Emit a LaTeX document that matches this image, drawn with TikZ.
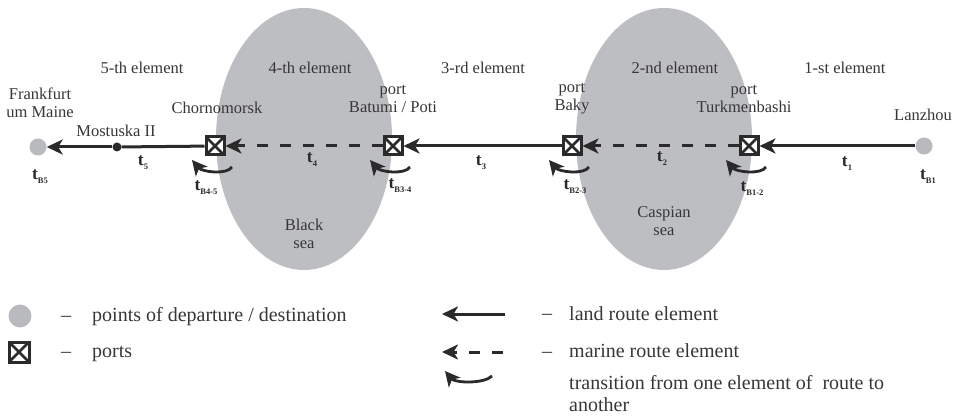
\documentclass[tikz,border=0pt]{standalone}
\usepackage{fontspec}
\setmainfont{Liberation Serif}
\usetikzlibrary{arrows.meta,calc}
\definecolor{ink}{RGB}{55,55,55}
\definecolor{lineink}{RGB}{42,42,42}
\definecolor{seagray}{RGB}{189,190,194}
\definecolor{dotgray}{RGB}{185,186,189}
% bold time symbol with a lowered small subscript
\newcommand{\tlab}[1]{{\fontsize{17.5}{17.5}\selectfont\bfseries t\raisebox{-4pt}{\fontsize{8.5}{8.5}\selectfont #1}}}
\begin{document}
\begin{tikzpicture}[x=1pt,y=-1pt,
  lbl/.style={text=ink, font=\fontsize{16.5}{18}\selectfont, align=center, inner sep=0},
  leg/.style={text=ink, font=\fontsize{20}{22}\selectfont, inner sep=0, anchor=base west, align=left},
  tl/.style={text=lineink, inner sep=0},
  endpt/.style={circle, fill=dotgray, minimum size=17pt, inner sep=0},
  waypt/.style={circle, fill=lineink, minimum size=9pt, inner sep=0},
  port/.style={draw=lineink, line width=3pt, fill=white, minimum size=18pt, inner sep=0,
    path picture={\draw[lineink,line width=2.5pt]
      (path picture bounding box.north west) -- (path picture bounding box.south east)
      (path picture bounding box.north east) -- (path picture bounding box.south west);}},
  land/.style={draw=lineink, line width=3pt, -{Stealth[length=16pt,width=15pt,inset=4.5pt]}},
  marine/.style={land, dash pattern=on 11pt off 12pt},
  plain/.style={draw=lineink, line width=3pt},
  trans/.style={draw=lineink, line width=2.8pt, -{Stealth[length=15pt,width=15pt,inset=4pt]}},
]
\useasboundingbox (0,0) rectangle (959,417);
\fill[white] (0,0) rectangle (959,417);

% seas
\fill[seagray] (304,139) ellipse [x radius=88, y radius=131];
\fill[seagray] (664,139) ellipse [x radius=88, y radius=131];
\node[lbl] (blacksea) at (304,234) {Black\\sea};
\node[lbl] (caspsea) at (664,221) {Caspian\\sea};

% element captions
\node[lbl] (el5) at (142,68) {5-th element};
\node[lbl] (el4) at (310,68) {4-th element};
\node[lbl] (el3) at (483,68) {3-rd element};
\node[lbl] (el2) at (675,68) {2-nd element};
\node[lbl] (el1) at (845,68) {1-st element};

% route points
\node[endpt] (fr) at (38,147) {};
\node[waypt] (mst) at (117,147) {};
\node[port] (chm) at (215,146) {};
\node[port] (bat) at (393,146) {};
\node[port] (bak) at (572,146) {};
\node[port] (tkm) at (749,146) {};
\node[endpt] (lz) at (924,146) {};

% place names
\node[lbl] (frname) at (40,103) {Frankfurt\\um Maine};
\node[lbl] (mstname) at (116,131) {Mostuska II};
\node[lbl] (chmname) at (217,108) {Chornomorsk};
\node[lbl] (batname) at (393,99) {port\\Batumi / Poti};
\node[lbl] (bakname) at (572,99) {port\\Baky};
\node[lbl] (tkmname) at (744,99) {port\\Turkmenbashi};
\node[lbl, anchor=west] (lzname) at (894,115) {Lanzhou};

% route elements
\draw[land] (lz) -- (tkm);
\draw[marine] (tkm) -- (bak);
\draw[land] (bak) -- (bat);
\draw[marine] (bat) -- (chm);
\draw[plain] (chm) -- (mst);
\draw[land] (mst) -- (fr);

% transitions between elements at the ports
\foreach \p in {chm,bat,bak,tkm}{
  \coordinate (\p-from) at ([shift={(17,21)}]\p.center);
  \coordinate (\p-to) at ([shift={(-23,14)}]\p.center);
  \draw[trans] (\p-from) .. controls +(-5,8) and +(10,12) .. (\p-to);
}

% times
\node[tl] (tB5) at (40,177) {\tlab{B5}};
\node[tl] (t5) at (143,163) {\tlab{5}};
\node[tl] (tB45) at (206,188) {\tlab{B4-5}};
\node[tl] (t4) at (312,160) {\tlab{4}};
\node[tl] (tB34) at (400,186) {\tlab{B3-4}};
\node[tl] (t3) at (481,163) {\tlab{3}};
\node[tl] (tB23) at (575,187) {\tlab{B2-3}};
\node[tl] (t2) at (662,159) {\tlab{2}};
\node[tl] (tB12) at (752,189) {\tlab{B1-2}};
\node[tl] (t1) at (847,164) {\tlab{1}};
\node[tl] (tB1) at (928,177) {\tlab{B1}};

% legend, left column
\node[endpt, minimum size=23pt] (legpt) at (20,316) {};
\node[port, minimum size=20pt] (legport) at (19,352) {};
\node[leg] (legptdash) at (61,321) {–};
\node[leg] (legpttxt) at (92,321) {points of departure / destination};
\node[leg] (legportdash) at (61,357) {–};
\node[leg] (legporttxt) at (92,357) {ports};

% legend, right column
\coordinate (landA) at (505,314);
\coordinate (landB) at (442,314);
\draw[land] (landA) -- (landB);
\coordinate (marA) at (503,352);
\coordinate (marB) at (442,352);
\draw[marine] (marA) -- (marB);
\coordinate (trA) at (492,376);
\coordinate (trB) at (445,371);
\draw[trans] (trA) .. controls +(-8,8) and +(10,12) .. (trB);
\node[leg] (landdash) at (542,319) {–};
\node[leg] (landtxt) at (569,320) {land route element};
\node[leg] (mardash) at (542,357) {–};
\node[leg] (martxt) at (569,357) {marine route element};
\node[leg, anchor=west] (trtxt) at (569,394) {transition from one element of~ route to\\another};
\end{tikzpicture}
\end{document}
